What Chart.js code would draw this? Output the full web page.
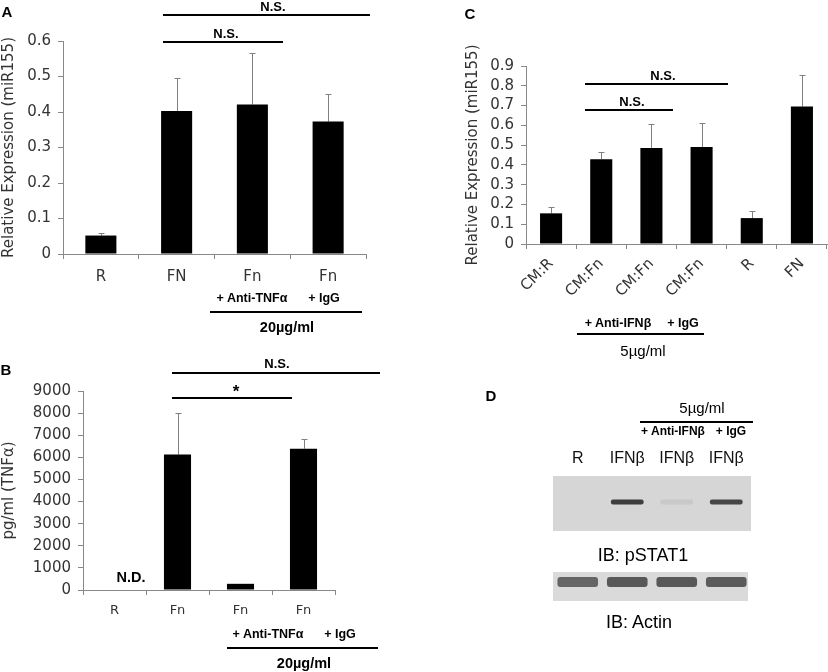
<!DOCTYPE html>
<html lang="en">
<head>
  <meta charset="UTF-8">
  <title>miR155 / TNFα / pSTAT1 figure</title>
  <style>
    body { margin: 0; padding: 0; background: #fff; }
    #wrap { position: relative; width: 828px; height: 672px; overflow: hidden; background: #fff; }
    #wrap canvas { position: absolute; }
    .t { position: absolute; transform: translate(-50%, -50%); white-space: nowrap; color: #000; font-family: "Liberation Sans", Arial, sans-serif; }
    .ln { position: absolute; background: #000; }
  </style>
  <script src="https://cdn.jsdelivr.net/npm/chart.js"></script>
</head>
<body>
  <div id="wrap">
    <canvas id="chartA" width="400" height="340" style="left:0;top:0"></canvas>
    <canvas id="chartB" width="420" height="332" style="left:0;top:340px"></canvas>
    <canvas id="chartC" width="408" height="340" style="left:420px;top:0"></canvas>
    <canvas id="blot" width="198" height="156" style="left:553px;top:445px"></canvas>
  </div>

  <script>
    // Panel A - miR155 expression
    const catsA = ['R', 'FN', 'Fn', 'Fn'];
    const meanA = [0.052, 0.403, 0.421, 0.373];
    const errA = [0.006, 0.094, 0.146, 0.077];
    const yTicksA = ['0', '0.1', '0.2', '0.3', '0.4', '0.5', '0.6'];

    // Panel B - TNFα secretion (R not detected)
    const catsB = ['R', 'Fn', 'Fn', 'Fn'];
    const meanB = [0, 6130, 280, 6390];
    const errB = [0, 1870, 0, 420];
    const yTicksB = ['0', '1000', '2000', '3000', '4000', '5000', '6000', '7000', '8000', '9000'];

    // Panel C - miR155 with conditioned medium
    const catsC = ['CM:R', 'CM:Fn', 'CM:Fn', 'CM:Fn', 'R', 'FN'];
    const meanC = [0.155, 0.429, 0.486, 0.490, 0.131, 0.695];
    const errC = [0.030, 0.035, 0.120, 0.122, 0.037, 0.160];
    const yTicksC = ['0', '0.1', '0.2', '0.3', '0.4', '0.5', '0.6', '0.7', '0.8', '0.9'];

    // Panel D - western blot band intensity (0..1)
    const lanes = ['R', 'IFNβ', 'IFNβ', 'IFNβ'];
    const pstat1 = [0, 0.9, 0.07, 0.85];
    const actin = [0.72, 0.8, 0.8, 0.78];

    const axisFont = 'DejaVu Sans';
    const gridGray = '#888';

    // error bars, only the upper half, drawn from the value arrays
    const errorBars = {
      id: 'errorBars',
      beforeDatasetsDraw(chart, args, opts) {
        const errs = opts.values;
        if (!errs) return;
        const ys = chart.scales.y;
        const vals = chart.data.datasets[0].data;
        const ctx = chart.ctx;
        ctx.save();
        ctx.strokeStyle = '#808080';
        ctx.lineWidth = 1;
        chart.getDatasetMeta(0).data.forEach((bar, i) => {
          if (!errs[i]) return;
          const top = Math.round(ys.getPixelForValue(vals[i] + errs[i])) + 0.5;
          const x = Math.round(bar.x) + 0.5;
          ctx.beginPath();
          ctx.moveTo(x, ys.getPixelForValue(vals[i]));
          ctx.lineTo(x, top);
          ctx.moveTo(x - 3, top);
          ctx.lineTo(x + 3, top);
          ctx.stroke();
        });
        ctx.restore();
      }
    };

    function barChart(id, cats, vals, errs, yMax, step, yTicks, yTitle, g) {
      return new Chart(document.getElementById(id), {
        type: 'bar',
        data: {
          labels: cats,
          datasets: [{ data: vals, backgroundColor: '#000', borderWidth: 0,
            categoryPercentage: 1, barPercentage: g.bar }]
        },
        options: {
          responsive: false,
          animation: false,
          layout: { padding: { top: g.top, right: g.right, left: g.left, bottom: 0 } },
          plugins: {
            legend: { display: false },
            tooltip: { enabled: false },
            errorBars: { values: errs }
          },
          scales: {
            x: {
              grid: { display: true, drawOnChartArea: false, offset: true, tickLength: 5, color: gridGray },
              border: { color: gridGray },
              ticks: { color: '#333', padding: g.xpad, font: { family: axisFont, size: g.xfont },
                minRotation: g.rot, maxRotation: g.rot, autoSkip: false },
              afterFit: s => { s.height = g.xh; }
            },
            y: {
              min: 0, max: yMax,
              grid: { drawOnChartArea: false, tickLength: 5, color: gridGray },
              border: { color: gridGray },
              ticks: { stepSize: step, color: '#333', padding: 7, autoSkip: false,
                font: { family: axisFont, size: 15 },
                callback: (v, i) => yTicks[i] },
              title: { display: true, text: yTitle, color: '#333', padding: 0,
                font: { family: axisFont, size: 15 } },
              afterFit: s => { s.width = g.yw; }
            }
          }
        },
        plugins: [errorBars]
      });
    }

    barChart('chartA', catsA, meanA, errA, 0.6, 0.1, yTicksA, 'Relative Expression (miR155)',
      { top: 41, right: 34, left: 0, yw: 63, xh: 86, bar: 0.41, xpad: 9, xfont: 15, rot: 0 });
    barChart('chartB', catsB, meanB, errB, 9000, 1000, yTicksB, 'pg/ml (TNFα)',
      { top: 51, right: 85, left: 0, yw: 83, xh: 82, bar: 0.43, xpad: 8, xfont: 13, rot: 0 });
    barChart('chartC', catsC, meanC, errC, 0.9, 0.1, yTicksC, 'Relative Expression (miR155)',
      { top: 66, right: 1, left: 44, yw: 62, xh: 96, bar: 0.44, xpad: 6, xfont: 15, rot: 45 });

    // the two membranes, in y units of pixels above the bottom of the actin strip
    const membranes = [
      { from: 70, to: 125, right: 0, color: '#d6d6d6' },   // pSTAT1
      { from: 0, to: 29, right: 3, color: '#dadada' }      // actin
    ];
    const blotBg = {
      id: 'blotBg',
      beforeDatasetsDraw(chart) {
        const a = chart.chartArea, ys = chart.scales.y, ctx = chart.ctx;
        ctx.save();
        membranes.forEach(m => {
          const top = ys.getPixelForValue(m.to), bottom = ys.getPixelForValue(m.from);
          ctx.fillStyle = m.color;
          ctx.fillRect(a.left, top, a.right - a.left - m.right, bottom - top);
        });
        ctx.restore();
      }
    };

    new Chart(document.getElementById('blot'), {
      type: 'bar',
      data: {
        labels: lanes,
        datasets: [
          {
            data: lanes.map(() => [96.5, 101.5]),
            backgroundColor: pstat1.map(v => 'rgba(45,45,45,' + v + ')'),
            borderWidth: 0, borderRadius: 2, borderSkipped: false, grouped: false,
            categoryPercentage: 1, barPercentage: 0.66
          },
          {
            data: lanes.map(() => [14, 24]),
            backgroundColor: actin.map(v => 'rgba(55,55,55,' + v + ')'),
            borderWidth: 0, borderRadius: 3, borderSkipped: false, grouped: false,
            categoryPercentage: 1, barPercentage: 0.82
          }
        ]
      },
      options: {
        responsive: false,
        animation: false,
        layout: { padding: 0 },
        plugins: { legend: { display: false }, tooltip: { enabled: false } },
        scales: {
          x: {
            position: 'top',
            grid: { display: false }, border: { display: false },
            ticks: { color: '#111', padding: 0, font: { family: 'Liberation Sans', size: 16 } },
            afterFit: s => { s.height = 31; }
          },
          y: { display: false, min: 0, max: 125 }
        }
      },
      plugins: [blotBg]
    });

    // annotations: panel letters, significance bars, treatment labels
    const wrap = document.getElementById('wrap');
    function txt(s, cx, cy, size, weight) {
      const d = document.createElement('div');
      d.className = 't';
      d.textContent = s;
      d.style.left = cx + 'px';
      d.style.top = cy + 'px';
      d.style.fontSize = size + 'px';
      d.style.fontWeight = weight || 'bold';
      wrap.appendChild(d);
    }
    function hline(x1, x2, y, w) {
      const d = document.createElement('div');
      d.className = 'ln';
      d.style.left = x1 + 'px';
      d.style.top = (y - (w || 1.5) / 2) + 'px';
      d.style.width = (x2 - x1) + 'px';
      d.style.height = (w || 1.5) + 'px';
      wrap.appendChild(d);
    }

    // A
    txt('A', 7, 11, 15);
    txt('N.S.', 273, 6, 13); hline(163, 370, 15);
    txt('N.S.', 226, 33, 13); hline(163, 283, 42);
    txt('+ Anti-TNFα', 252, 298, 12.5); txt('+ IgG', 324, 298, 12.5);
    hline(210, 362, 312);
    txt('20µg/ml', 287, 327, 14.5);

    // B
    txt('B', 6, 369, 15);
    txt('N.S.', 277, 363, 13); hline(172, 380, 373);
    txt('*', 236, 392, 17); hline(172, 292, 398);
    txt('N.D.', 131, 577, 14.5);
    txt('+ Anti-TNFα', 268, 634, 12.5); txt('+ IgG', 340, 634, 12.5);
    hline(227, 378, 648);
    txt('20µg/ml', 304, 663, 14.5);

    // C
    txt('C', 470, 13, 15);
    txt('N.S.', 663, 75, 13); hline(585, 728, 84);
    txt('N.S.', 632, 101, 13); hline(585, 673, 110);
    txt('+ Anti-IFNβ', 618, 323, 12.5); txt('+ IgG', 683, 323, 12.5);
    hline(577, 704, 334);
    txt('5µg/ml', 643, 350, 15, 'normal');

    // D
    txt('D', 491, 395, 15);
    txt('5µg/ml', 702, 407, 15, 'normal');
    hline(640, 753, 422);
    txt('+ Anti-IFNβ', 673, 431, 12); txt('+ IgG', 731, 431, 12);
    txt('IB: pSTAT1', 643, 555, 18, 'normal');
    txt('IB: Actin', 639, 622, 18, 'normal');
  </script>
</body>
</html>
